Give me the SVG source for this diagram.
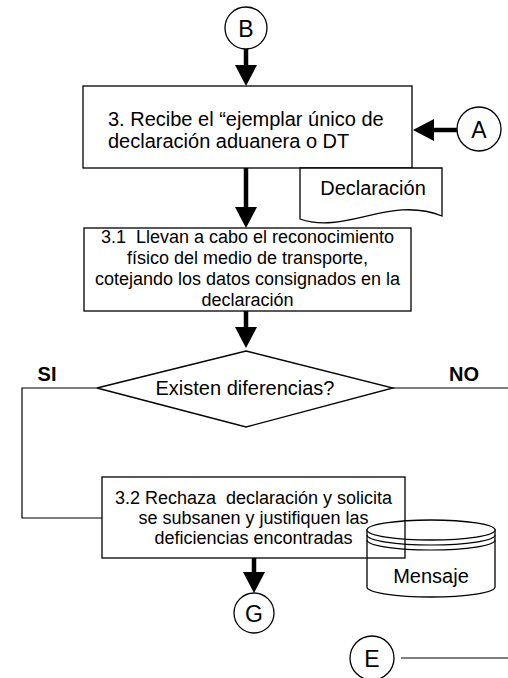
<svg xmlns="http://www.w3.org/2000/svg" width="508" height="678" viewBox="0 0 508 678">
<style>
.box{fill:none;stroke:#000;stroke-width:1.3}
.shape{fill:#fff;stroke:#000;stroke-width:1.3}
.t{font-family:"Liberation Sans",Arial,sans-serif;font-size:20px;fill:#000;text-anchor:middle;white-space:pre}
.l{text-anchor:start}
.s{font-size:18px}
.b{font-weight:bold}
.c{font-size:23px}
.thin{fill:none;stroke:#000;stroke-width:1.2}
.thick{fill:none;stroke:#000;stroke-width:4.5;marker-end:url(#ah)}
</style>
<defs>
<marker id="ah" markerUnits="userSpaceOnUse" markerWidth="22" markerHeight="22" refX="0" refY="11" orient="auto" viewBox="0 0 21 22">
<path d="M0,0 L21,11 L0,22 Z" fill="#000"/>
</marker>
</defs>
<g id="connectors">
<line class="thick" x1="246" y1="49" x2="246" y2="65"/>
<line class="thick" x1="458" y1="130" x2="434" y2="130"/>
<line class="thick" x1="246" y1="168" x2="246" y2="207"/>
<line class="thick" x1="246" y1="311" x2="246" y2="327"/>
<line class="thick" x1="254" y1="558" x2="254" y2="572"/>
<polyline class="thin" points="97,388 22,388 22,518 102,518"/>
<line class="thin" x1="393" y1="388" x2="508" y2="388"/>
<line class="thin" x1="401" y1="658" x2="508" y2="658"/>
<text class="t b" x="47" y="381">SI</text>
<text class="t b" x="464" y="381">NO</text>
</g>
<g id="nodeB">
<circle class="shape" cx="246" cy="28" r="21"/>
<text class="t c" x="246" y="36.5">B</text>
</g>
<g id="nodeA">
<circle class="shape" cx="479" cy="129" r="22"/>
<text class="t c" x="479" y="137.5">A</text>
</g>
<g id="node3">
<rect class="box" x="83" y="86" width="329" height="82"/>
<text class="t l" x="108" y="126">3. Recibe el “ejemplar único de</text>
<text class="t l" x="108" y="148">declaración aduanera o DT</text>
</g>
<g id="docDeclaracion">
<path class="shape" d="M300,168 H442 V216 C390,195 345,235 300,219 Z"/>
<text class="t" x="373" y="195">Declaración</text>
</g>
<g id="node3_1">
<rect class="box" x="84" y="228" width="327" height="83"/>
<text class="t s" x="247.5" y="243">3.1  Llevan a cabo el reconocimiento</text>
<text class="t s" x="247.5" y="264">físico del medio de transporte,</text>
<text class="t s" x="247.5" y="285">cotejando los datos consignados en la</text>
<text class="t s" x="247.5" y="306">declaración</text>
</g>
<g id="decision">
<polygon class="shape" points="246,351 393,388 246,427 97,388"/>
<text class="t" x="245" y="395">Existen diferencias?</text>
</g>
<g id="dbMensaje">
<path class="shape" d="M367,530 V587 A64,10 0 0 0 495,587 V530 Z"/>
<ellipse class="shape" cx="431" cy="530" rx="64" ry="10"/>
<path class="thin" d="M367,535 A64,10 0 0 0 495,535 M367,540 A64,10 0 0 0 495,540"/>
<text class="t" x="431" y="583">Mensaje</text>
</g>
<g id="node3_2">
<rect class="box" x="102" y="477" width="303" height="81"/>
<text class="t s" x="253.5" y="504">3.2 Rechaza  declaración y solicita</text>
<text class="t s" x="253.5" y="524">se subsanen y justifiquen las</text>
<text class="t s" x="253.5" y="544">deficiencias encontradas</text>
</g>
<g id="nodeG">
<circle class="shape" cx="254" cy="613" r="20"/>
<text class="t c" x="254" y="621.5">G</text>
</g>
<g id="nodeE">
<circle class="shape" cx="372" cy="658" r="22"/>
<text class="t c" x="372" y="666.5">E</text>
</g>
</svg>
